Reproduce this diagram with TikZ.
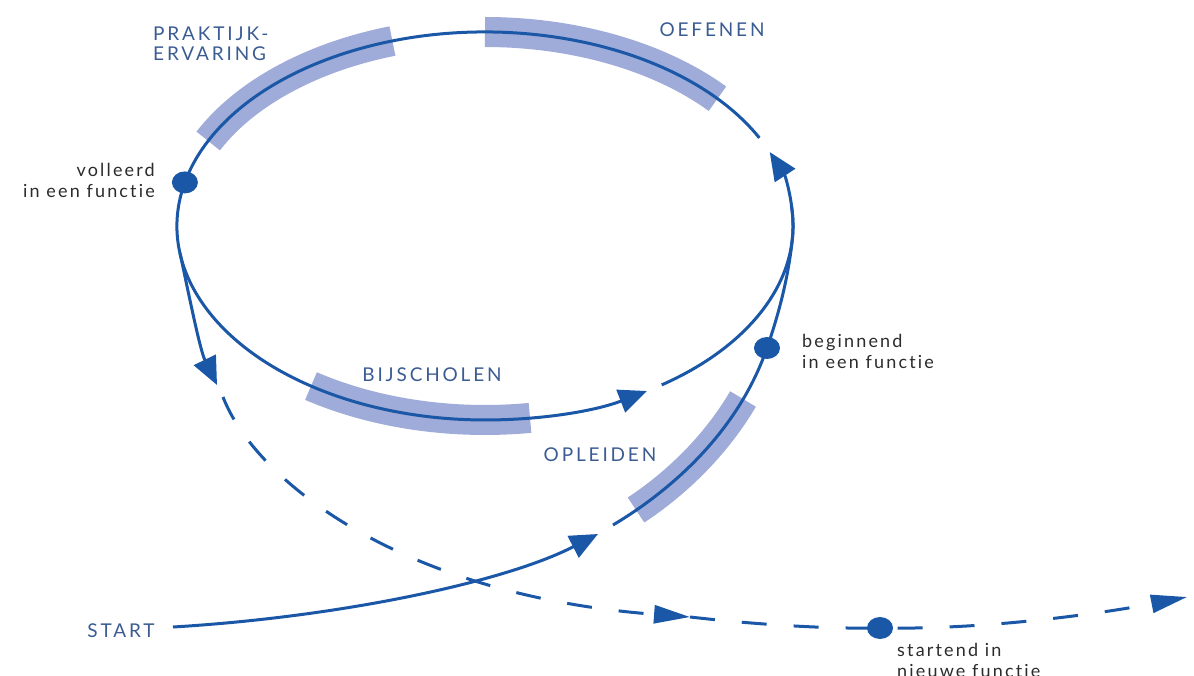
\documentclass[tikz,border=0pt]{standalone}
\usepackage{fontspec}
\setmainfont[Ligatures=NoCommon]{Lato}
\usepackage{tikz}
\usetikzlibrary{shapes.geometric}
\usetikzlibrary{arrows.meta,positioning}
\definecolor{blauw}{HTML}{1B57A7}
\definecolor{band}{HTML}{9FABD8}
\definecolor{kop}{HTML}{3B5C92}
\definecolor{tekst}{HTML}{2B2B2B}
\newcommand\faseFont{\fontsize{19}{20}\selectfont\addfontfeatures{LetterSpace=15}}
\newcommand\uitlegFont{\fontsize{18}{21}\selectfont\addfontfeatures{LetterSpace=12}}

\begin{document}
\begin{tikzpicture}[x=1pt,y=-1pt]%
\useasboundingbox (0,0) rectangle (1194,676);%
\tikzstyle{baan}=[draw=band,line width=30pt]
\tikzstyle{lijn}=[draw=blauw,line width=3pt]
\tikzstyle{pijl}=[lijn,-{Triangle[length=28pt,width=24pt]}]
\tikzstyle{streep}=[lijn,dash pattern=on 25pt off 27pt]
\tikzstyle{streeppijl}=[streep,-{Triangle[length=36pt,width=18pt]}]
\tikzstyle{fase}=[text=kop,font=\faseFont,inner sep=0pt]
\tikzstyle{uitleg}=[text=tekst,font=\uitlegFont,inner sep=0pt]
%% punten op de lijnen
\coordinate (oefEind) at (759.4,137.9); %%
\coordinate (bijBegin) at (661.7,384.9); %%
\coordinate (rechtsMidden) at (793,226); %%
\coordinate (splits) at (180.0,253.0); %%
\coordinate (linksPijl) at (217,385); %%
\coordinate (start) at (173,627); %%
\coordinate (startPijl) at (598,534); %%
\coordinate (oplBegin) at (613,525); %%
\coordinate (pBegin) at (767,348); %%
\coordinate (rechts) at (792.3,239.5); %%
\coordinate (streepBegin) at (223,397); %%
\coordinate (streepPijl) at (690,617); %%
\coordinate (pVol) at (184.9,182.4); %%
\coordinate (pStart) at (880,628); %%
\coordinate (eindPijl) at (1187,597); %%
%% banen
\draw[baan] (208.2,141.0) arc[start angle=-154,end angle=-107.5,x radius=308,y radius=194]; %%
\draw[baan] (485,32) arc[start angle=-90,end angle=-41,x radius=308,y radius=194]; %%
\draw[baan] (530,417.9) arc[start angle=81.6,end angle=124.4,x radius=308,y radius=194]; %%
\draw[baan] (636,510) .. controls (671,487) and (713,450) .. (743,399); %%
%% cirkel
\draw[pijl] (oefEind) arc[start angle=-27,end angle=-301.7,x radius=308,y radius=194]; %%
\draw[lijn] (bijBegin) arc[start angle=-305,end angle=-360,x radius=308,y radius=194]; %%
\draw[pijl] (rechtsMidden) arc[start angle=0,end angle=-22.4,x radius=308,y radius=194]; %%
\draw[pijl] (splits) .. controls (190,300) and (200,350) .. (linksPijl); %%
\draw[pijl] (start) .. controls (340,617) and (505,582) .. (startPijl); %%
\draw[lijn] (oplBegin) .. controls (660,497) and (735,440) .. (pBegin) .. controls (778,316) and (788,280) .. (rechts) arc[start angle=4,end angle=-6,x radius=308,y radius=194]; %%
\draw[streeppijl] (streepBegin) .. controls (255,480) and (400,595) .. (streepPijl); %%
\draw[streeppijl] (streepPijl) .. controls (760,625) and (830,629) .. (pStart) .. controls (990,630) and (1110,612) .. (eindPijl); %%
\begin{scope}[shape=ellipse,minimum width=26pt,minimum height=22pt,inner sep=0pt]%
\tikzstyle{every node}=[fill=blauw] %%
\node (volleerd) at (pVol) {}; %%
\node (beginnend) at (pBegin) {}; %%
\node (startend) at (pStart) {}; %%
\end{scope}
%% teksten
\node[fase,anchor=north west,align=left] (praktijk) at (153,27) {PRAKTIJK-\\ERVARING}; %%
\node[fase] (oefenen) at (712,30) {OEFENEN}; %%
\node[fase] (bijscholen) at (432,375) {BIJSCHOLEN}; %%
\node[fase] (opleiden) at (600,455) {OPLEIDEN}; %%
\node[fase] (startTekst) at (121,631) {START}; %%
\node[uitleg,anchor=north east,align=right] (volTekst) at (155,163) {volleerd\\in een functie}; %%
\node[uitleg,anchor=north west,align=left] (beginTekst) at (802,334) {beginnend\\in een functie}; %%
\node[uitleg,anchor=north west,align=left] (startendTekst) at (897,643) {startend in\\nieuwe functie}; %%
\end{tikzpicture}
\end{document}
